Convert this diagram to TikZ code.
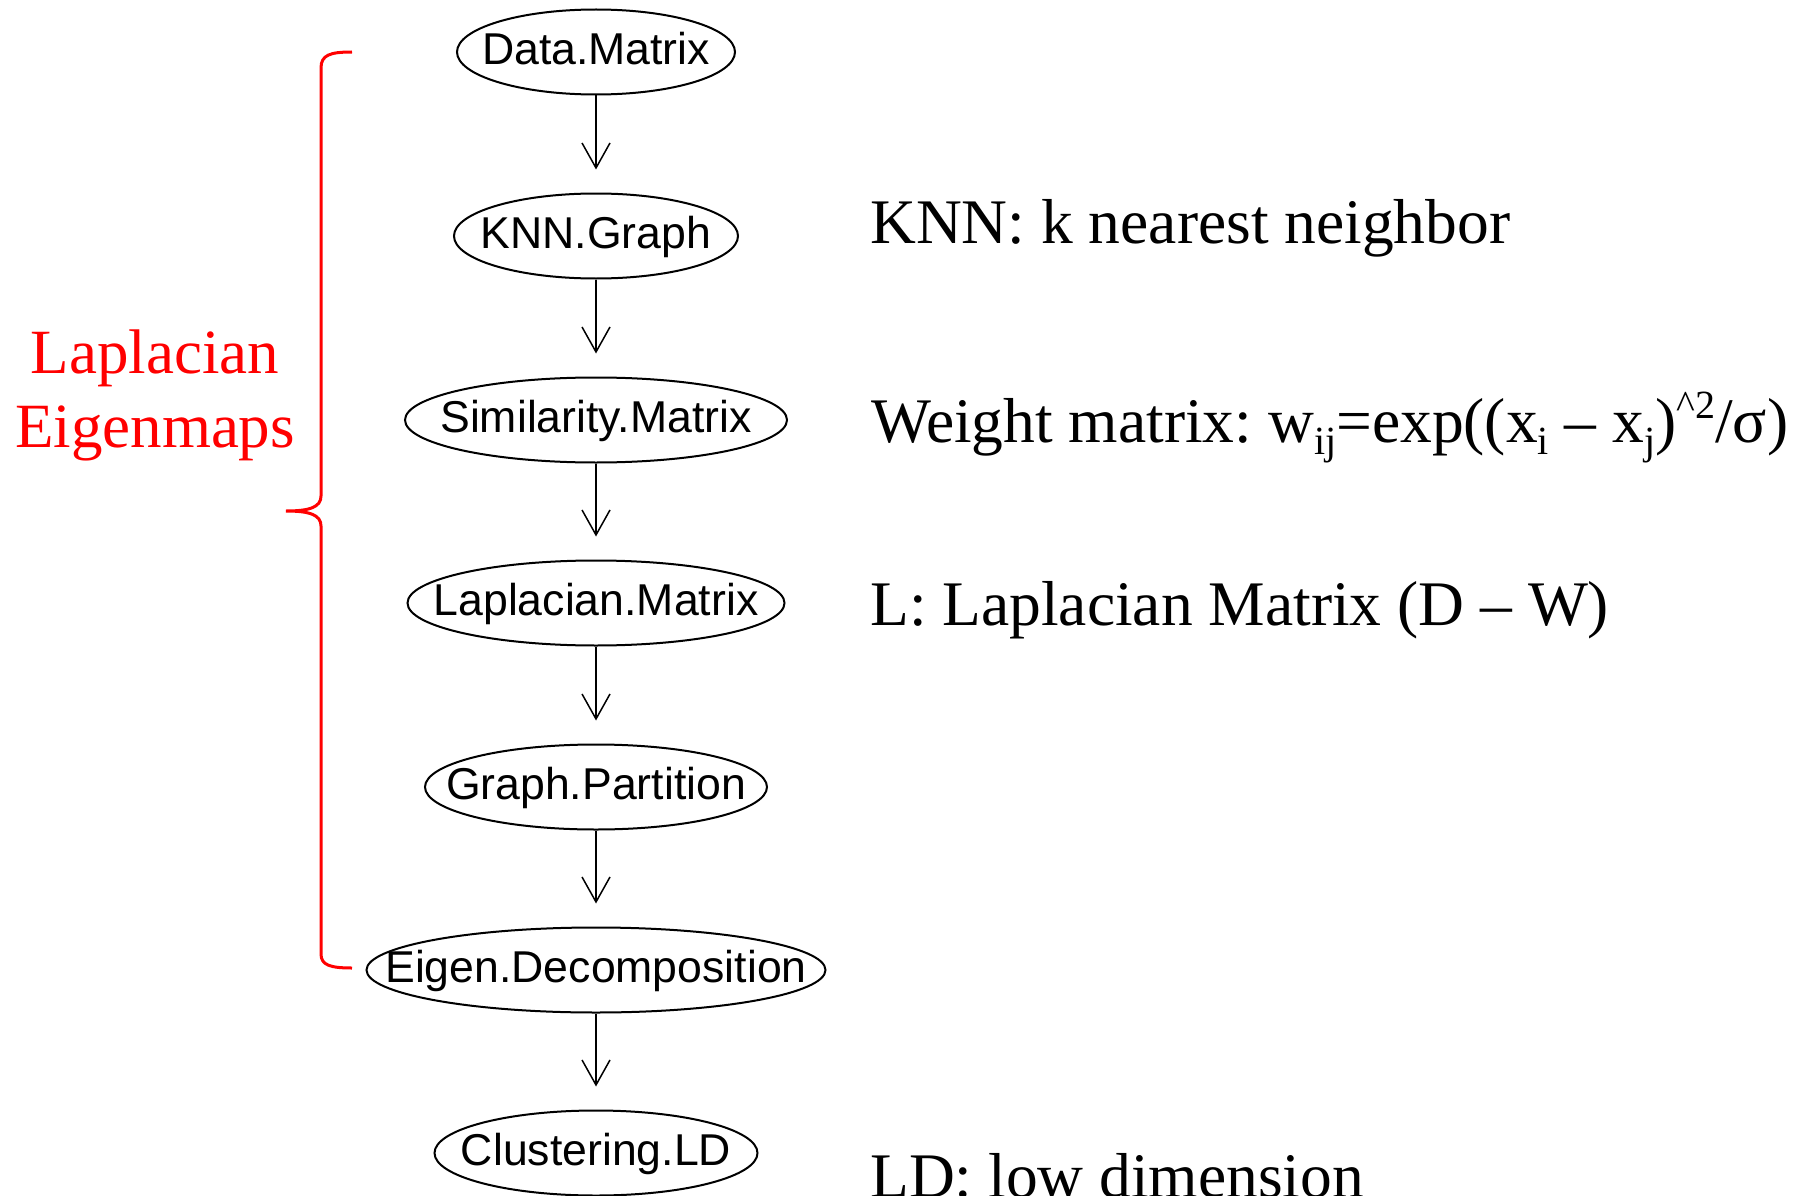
\documentclass[tikz,border=0pt]{standalone}
\usepackage{fontspec}
\setmainfont{Liberation Serif}
\newfontfamily\sansf{Liberation Sans}
\usetikzlibrary{shapes.geometric,arrows.meta}

\tikzset{
  stage/.style={ellipse, draw, line width=2pt, inner sep=0pt,
    minimum height=85pt, text height=25pt, text depth=0pt,
    font=\sansf\fontsize{44.6pt}{50pt}\selectfont},
  flow/.style={line width=1.5pt, -{Straight Barb[length=25pt,width=28pt,line width=1.5pt]}},
  note/.style={anchor=base west, inner sep=0pt, font=\frenchspacing\fontsize{63.5pt}{70pt}\selectfont},
  redlbl/.style={anchor=base, inner sep=0pt, text=red, font=\fontsize{63pt}{70pt}\selectfont},
  brace/.style={draw=red, line width=3pt}
}

\newcommand{\lo}[1]{\raisebox{-12pt}{\fontsize{40pt}{40pt}\selectfont #1}}
\newcommand{\hi}[1]{\raisebox{24pt}{\fontsize{40pt}{40pt}\selectfont #1}}

\begin{document}
\begin{tikzpicture}[x=1pt,y=-1pt]
  \useasboundingbox (0,0) rectangle (1810,1196);

  % pipeline stages
  \node[stage, minimum width=278pt] (data) at (596,52)   {\makebox[0pt]{Data.Matrix}};
  \node[stage, minimum width=284pt] (knn)  at (596,236)  {\makebox[0pt]{KNN.Graph}};
  \node[stage, minimum width=382pt] (sim)  at (596,420)  {\makebox[0pt]{Similarity.Matrix}};
  \node[stage, minimum width=377pt] (lap)  at (596,603)  {\makebox[0pt]{Laplacian.Matrix}};
  \node[stage, minimum width=342pt] (part) at (596,787)  {\makebox[0pt]{Graph.Partition}};
  \node[stage, minimum width=459pt] (eig)  at (596,970)  {\makebox[0pt]{Eigen.Decomposition}};
  \node[stage, minimum width=323pt] (clu)  at (596,1153) {\makebox[0pt]{Clustering.LD}};

  % arrows between stages
  \foreach \a/\b in {data/knn, knn/sim, sim/lap, lap/part, part/eig, eig/clu}
    \draw[flow] (\a.south) -- ([yshift=23pt]\b.north);

  % notes on the right
  \node[note] (nknn) at (870,243) {KNN: k nearest neighbor};
  \node[note] (nw)   at (871,442) {Weight matrix: w\lo{ij}=exp((x\lo{i} – x\lo{j})\hi{\^{}2}/σ)};
  \node[note] (nl)   at (870,625) {L: Laplacian Matrix (D – W)};
  \node[note] (nld)  at (870,1197) {LD: low dimension};

  % red brace and its label
  \draw[brace] (352,52) .. controls (330,52) and (321,55) .. (321,68)
    -- (321,496) .. controls (321,507) and (310,511) .. (286,511)
    .. controls (310,511) and (321,515) .. (321,526)
    -- (321,954) .. controls (321,965) and (330,968) .. (352,968);
  \node[redlbl] (lbl1) at (155,373) {Laplacian};
  \node[redlbl] (lbl2) at (155,447) {Eigenmaps};
\end{tikzpicture}
\end{document}
